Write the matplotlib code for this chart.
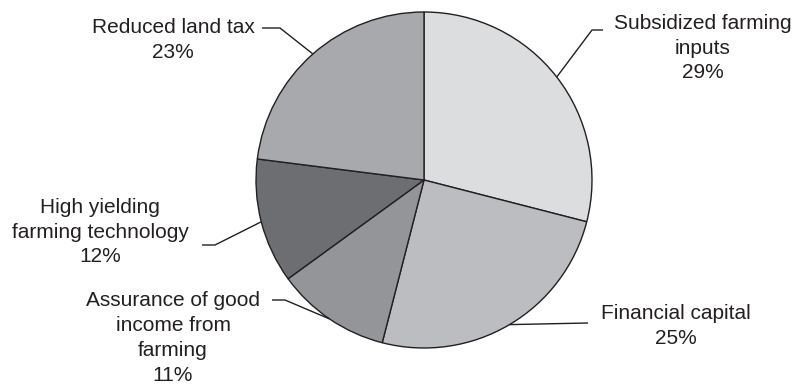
import numpy as np
import matplotlib.pyplot as plt

plt.rcParams['font.family'] = ['Liberation Sans', 'DejaVu Sans']

# slices, clockwise from 12 o'clock
labels = ['Subsidized farming\ninputs', 'Financial capital',
          'Assurance of good\nincome from\nfarming',
          'High yielding\nfarming technology', 'Reduced land tax']
shares = [29, 25, 11, 12, 23]
colors = ['#dcdddf', '#bcbdc0', '#939598', '#6d6e71', '#a7a9ac']

W, H = 798, 387
fig = plt.figure(figsize=(W / 100, H / 100), dpi=100)
ax = fig.add_axes([0, 0, 1, 1])
ax.set_xlim(0, W)
ax.set_ylim(0, H)
ax.set_aspect('equal')
ax.axis('off')

cx, cy, r = 424, H - 180, 168
wedges, _ = ax.pie(shares, colors=colors, startangle=90, counterclock=False,
                   center=(cx, cy), radius=r,
                   wedgeprops=dict(edgecolor='#231f20', linewidth=1.0))
ax.set_xlim(0, W)
ax.set_ylim(0, H)

# label layout: text centre, leader start, elbow (image pixels, y down)
layout = [
    ((703, 48), (603, 30), (592, 30)),
    ((676, 326), (588, 323), None),
    ((173, 338), (272, 300), (285, 300)),
    ((100, 232), (202, 245), (215, 245)),
    ((173, 40), (262, 28), (280, 28)),
]

ink = '#231f20'
for w, lab, s, (tpos, start, elbow) in zip(wedges, labels, shares, layout):
    th = np.deg2rad((w.theta1 + w.theta2) / 2)
    ex, ey = cx + r * np.cos(th), cy + r * np.sin(th)
    if elbow is None:
        xs = [ex, start[0]]
        ys = [ey, H - start[1]]
    else:
        xs = [start[0], elbow[0], ex]
        ys = [H - start[1], H - elbow[1], ey]
    ax.plot(xs, ys, color=ink, lw=1.0, solid_capstyle='butt')
    ax.text(tpos[0], H - tpos[1], f'{lab}\n{s}%', ha='center', va='center',
            multialignment='center', fontsize=15, color=ink, linespacing=1.38)

fig.savefig('out.png', dpi=100)
